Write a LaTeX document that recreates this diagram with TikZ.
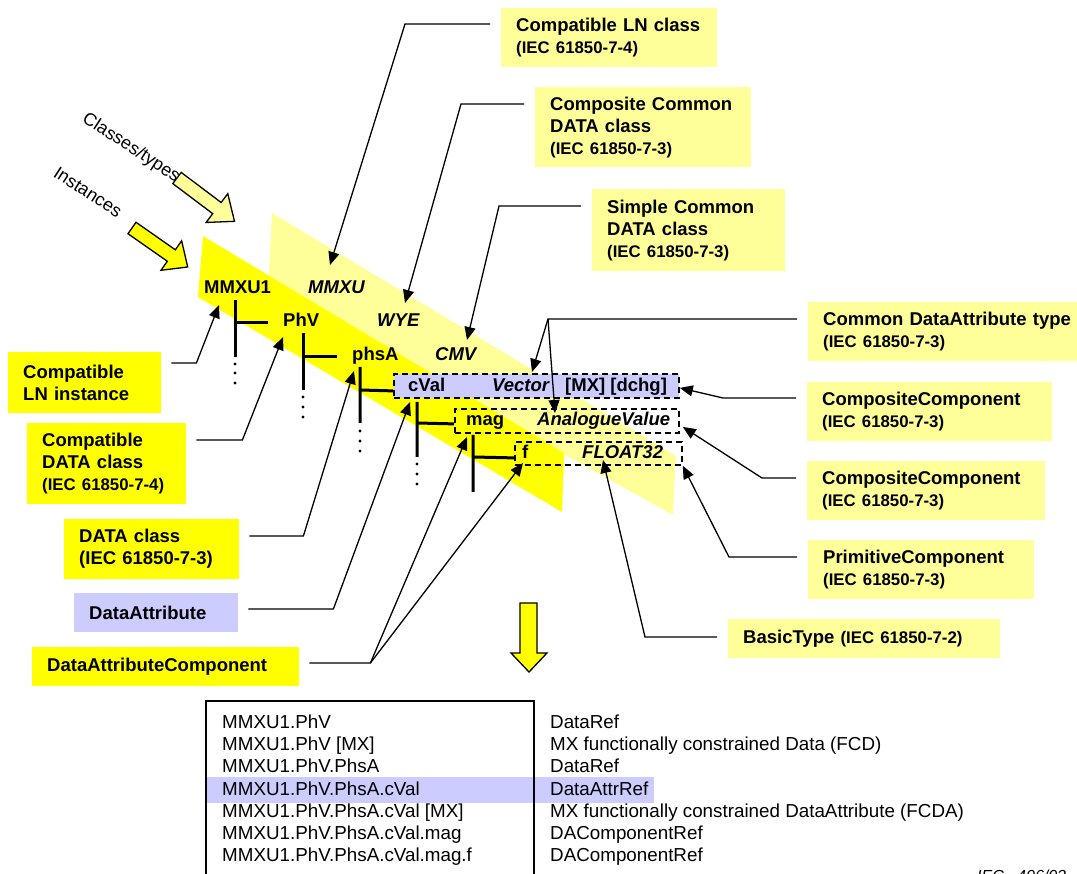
\documentclass[tikz,border=0pt]{standalone}
\usepackage{fontspec}
\setmainfont{Liberation Sans}
\usepackage{tikz}
\usetikzlibrary{arrows.meta}
\definecolor{instyellow}{HTML}{FFFF00}
\definecolor{classyellow}{HTML}{FFFF99}
\definecolor{attrblue}{HTML}{CCCCFF}
\newcommand{\biglabel}{\fontsize{18.5}{22}\selectfont\bfseries}
\newcommand{\iecsize}{\fontsize{16.8}{21}\selectfont}

\begin{document}
\begin{tikzpicture}[x=1pt,y=-1pt,
  infobox/.style={anchor=north west, inner xsep=15pt, inner ysep=0pt, align=left, font=\biglabel},
  link/.style={line width=1.3pt, -{Triangle[length=13pt,width=11pt]}},
  treeline/.style={line width=3pt},
  rowbox/.style={draw, dash pattern=on 6pt off 4pt, line width=1.8pt, anchor=north west, inner sep=0pt},
  item/.style={anchor=base west, inner sep=0pt, font=\biglabel},
  typeitem/.style={item, font=\biglabel\itshape},
  blockarrow/.style={draw=black, line width=1.3pt},
  reftext/.style={anchor=north west, inner sep=0pt, align=left, font=\fontsize{18.8}{22.3}\selectfont}]
\useasboundingbox (0,0) rectangle (1077,874);

% bands: classes/types behind, instances in front
\fill[classyellow] (272,213) -- (676,456) -- (673,515) -- (268,290) -- cycle;
\fill[instyellow] (203,236) -- (564,453) -- (562,512) -- (198,297) -- cycle;

% block arrows
\begin{scope}[shift={(177,178)}, rotate=-37]
\draw[blockarrow, fill=classyellow] (0,-7) -- (50,-7) -- (50,-18) -- (72,0) -- (50,18) -- (50,7) -- (0,7) -- cycle;
\end{scope}
\begin{scope}[shift={(132,228)}, rotate=-35]
\draw[blockarrow, fill=instyellow] (0,-7) -- (48,-7) -- (48,-18) -- (68,0) -- (48,18) -- (48,7) -- (0,7) -- cycle;
\end{scope}
\node[rotate=-33, font=\fontsize{18}{20}\selectfont] (classeslabel) at (131,148) {Classes/types};
\node[rotate=-33, font=\fontsize{18}{20}\selectfont] (instlabel) at (88,192) {Instances};

% rows
\node[rowbox, fill=attrblue, minimum width=285pt, minimum height=24pt] (cvalrow) at (393,373) {};
\node[rowbox, minimum width=224pt, minimum height=24pt] (magrow) at (454,408) {};
\node[rowbox, minimum width=167pt, minimum height=23pt] (frow) at (514,441) {};

% instances and types
\node[item] (mmxuone) at (204,294) {MMXU1};
\node[typeitem] (mmxu) at (308,294) {MMXU};
\node[item] (phv) at (283,327) {PhV};
\node[typeitem] (wye) at (377,327) {WYE};
\node[item] (phsa) at (352,361) {phsA};
\node[typeitem] (cmv) at (435,361) {CMV};
\node[item] (cval) at (408,392) {cVal};
\node[typeitem] (vector) at (492,392) {Vector};
\node[item] (mxdchg) at (565,392) {[MX] [dchg]};
\node[item] (mag) at (466,426) {mag};
\node[typeitem] (anval) at (537,426) {AnalogueValue};
\node[item] (fcomp) at (522,459) {f};
\node[typeitem] (float) at (582,459) {FLOAT32};

% tree
\draw[treeline] ([shift={(31,6)}]mmxuone.base west) -- ++(0,57) ([shift={(31,29)}]mmxuone.base west) -- ([shift={(-15,-4)}]phv.base west);
\draw[treeline] ([shift={(20,6)}]phv.base west) -- ++(0,57) ([shift={(20,30)}]phv.base west) -- ([shift={(-15,-4)}]phsa.base west);
\draw[treeline] ([shift={(8,6)}]phsa.base west) -- ++(0,56) ([shift={(8,29)}]phsa.base west) -- ([shift={(0,5)}]cvalrow.west);
\draw[treeline] ([shift={(9,10)}]cval.base west) -- ++(0,55) ([shift={(9,31)}]cval.base west) -- ([shift={(0,3)}]magrow.west);
\draw[treeline] ([shift={(7,9)}]mag.base west) -- ++(0,57) ([shift={(7,31)}]mag.base west) -- ([shift={(0,4.5)}]frow.west);
\fill ([shift={(31,70)}]mmxuone.base west) circle (1.6pt) ([shift={(31,79)}]mmxuone.base west) circle (1.6pt) ([shift={(31,89)}]mmxuone.base west) circle (1.6pt);
\fill ([shift={(20,70)}]phv.base west) circle (1.6pt) ([shift={(20,80)}]phv.base west) circle (1.6pt) ([shift={(20,90)}]phv.base west) circle (1.6pt);
\fill ([shift={(8,70)}]phsa.base west) circle (1.6pt) ([shift={(8,80)}]phsa.base west) circle (1.6pt) ([shift={(8,90)}]phsa.base west) circle (1.6pt);
\fill ([shift={(9,72)}]cval.base west) circle (1.6pt) ([shift={(9,82)}]cval.base west) circle (1.6pt) ([shift={(9,92)}]cval.base west) circle (1.6pt);

% class boxes, right
\node[infobox, fill=classyellow, text width=186pt, minimum height=59pt] (lnclass) at (501,8) {Compatible LN class\\\iecsize(IEC 61850-7-4)};
\node[infobox, fill=classyellow, text width=186pt, minimum height=80pt] (compcdc) at (535,87) {Composite Common\\DATA class\\\iecsize(IEC 61850-7-3)};
\node[infobox, fill=classyellow, text width=163pt, minimum height=82pt] (simplecdc) at (592,189) {Simple Common\\DATA class\\\iecsize(IEC 61850-7-3)};
\node[infobox, fill=classyellow, text width=260pt, minimum height=59pt] (datype) at (808,302) {Common DataAttribute type\\\iecsize(IEC 61850-7-3)};
\node[infobox, fill=classyellow, text width=215pt, minimum height=59pt] (compcompa) at (807,382) {CompositeComponent\\\iecsize(IEC 61850-7-3)};
\node[infobox, fill=classyellow, text width=208pt, minimum height=59pt] (compcompb) at (807,461) {CompositeComponent\\\iecsize(IEC 61850-7-3)};
\node[infobox, fill=classyellow, text width=196pt, minimum height=59pt] (primcomp) at (808,540) {PrimitiveComponent\\\iecsize(IEC 61850-7-3)};
\node[infobox, fill=classyellow, text width=242pt, minimum height=39pt] (basictype) at (728,619) {BasicType {\iecsize(IEC 61850-7-2)}};

% instance boxes, left
\node[infobox, fill=instyellow, text width=123pt, minimum height=61pt] (lninst) at (8,352) {Compatible\\LN instance};
\node[infobox, fill=instyellow, text width=129pt, minimum height=81pt] (compdata) at (27,423) {Compatible\\DATA class\\\iecsize(IEC 61850-7-4)};
\node[infobox, fill=instyellow, text width=145pt, minimum height=60pt] (dataclass) at (64,519) {DATA class\\(IEC 61850-7-3)};
\node[infobox, fill=attrblue, text width=134pt, minimum height=39pt] (dataattr) at (74,593) {DataAttribute};
\node[infobox, fill=instyellow, text width=237pt, minimum height=39pt] (dacomp) at (32,647) {DataAttributeComponent};

% connectors
\draw[link] ([shift={(10,11)}]lninst.north east) -- ++(25,0) -- ([shift={(15,11)}]mmxuone.base west);
\draw[link] ([shift={(10,17)}]compdata.north east) -- ++(46,0) -- ([shift={(0,10)}]phv.base west);
\draw[link] ([shift={(10,17)}]dataclass.north east) -- ++(54,0) -- ([shift={(2,10)}]phsa.base west);
\draw[link] ([shift={(10,16)}]dataattr.north east) -- ++(85,0) -- ([shift={(2,10)}]cval.base west);
\draw[link] ([shift={(10,16)}]dacomp.north east) -- ++(61,0) coordinate (dcbend) -- ([shift={(1,11)}]mag.base west);
\draw[link] (dcbend) -- ([shift={(1,4)}]fcomp.base west);
\draw[link] ([shift={(-11,16)}]lnclass.north west) -- ++(-85,0) -- ([shift={(22,-29)}]mmxu.base west);
\draw[link] ([shift={(-11,17)}]compcdc.north west) -- ++(-63,0) -- ([shift={(28,-24)}]wye.base west);
\draw[link] ([shift={(-11,17)}]simplecdc.north west) -- ++(-82,0) -- ([shift={(32,-21)}]cmv.base west);
\draw[link] ([shift={(-11,17)}]datype.north west) -- ++(-249,0) coordinate (datbend) -- ([shift={(40,-20)}]vector.base west);
\draw[link] (datbend) -- ([shift={(18,-13)}]anval.base west);
\draw[link] ([shift={(-11,16)}]compcompa.north west) -- ++(-73,0) -- ([shift={(0,2)}]cvalrow.east);
\draw[link] ([shift={(-11,17)}]compcompb.north west) -- ++(-34,0) -- ([shift={(3,6)}]magrow.east);
\draw[link] ([shift={(-11,17)}]primcomp.north west) -- ++(-68,0) -- (frow.south east);
\draw[link] ([shift={(-11,18)}]basictype.north west) -- ++(-72,0) -- ([shift={(21,1)}]float.base west);

% down arrow and reference table
\draw[blockarrow, fill=instyellow] (520,603) -- (537,603) -- (537,653) -- (547,653) -- (529,672) -- (511,653) -- (520,653) -- cycle;
\fill[attrblue] (206,777) rectangle (654,803);
\draw[line width=1.3pt] (206,885) -- (206,701) -- (534,701) -- (534,885);
\node[reftext] (reflist) at (222,714.3) {MMXU1.PhV\\MMXU1.PhV [MX]\\MMXU1.PhV.PhsA\\MMXU1.PhV.PhsA.cVal\\MMXU1.PhV.PhsA.cVal [MX]\\MMXU1.PhV.PhsA.cVal.mag\\MMXU1.PhV.PhsA.cVal.mag.f};
\node[reftext] (kindlist) at (550,714.3) {DataRef\\MX functionally constrained Data (FCD)\\DataRef\\DataAttrRef\\MX functionally constrained DataAttribute (FCDA)\\DAComponentRef\\DAComponentRef};
\node[anchor=base west, inner sep=0pt, font=\fontsize{16}{19}\selectfont\itshape] (ieclabel) at (977,881) {IEC~~~406/03};
\end{tikzpicture}
\end{document}
